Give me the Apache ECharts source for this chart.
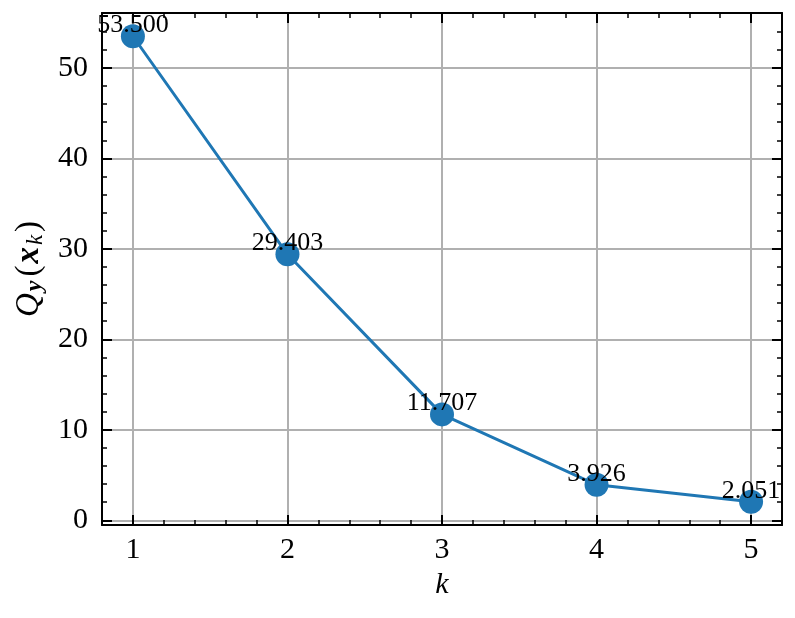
<!DOCTYPE html>
<html>
<head>
<meta charset="utf-8">
<script src="https://cdn.jsdelivr.net/npm/echarts@6/dist/echarts.min.js"></script>
<style>
  html, body { margin: 0; padding: 0; background: #fff; }
  #main { width: 795px; height: 618px; }
</style>
</head>
<body>
<div id="main"></div>
<script>
const kValues = [1, 2, 3, 4, 5];
const qValues = [53.5, 29.403, 11.707, 3.926, 2.051];

const xTicks = [1, 2, 3, 4, 5];
const xMinorTicks = [1.2, 1.4, 1.6, 1.8, 2.2, 2.4, 2.6, 2.8, 3.2, 3.4, 3.6, 3.8, 4.2, 4.4, 4.6, 4.8];
const yTicks = [0, 10, 20, 30, 40, 50];
const yMinorTicks = [2, 4, 6, 8, 12, 14, 16, 18, 22, 24, 26, 28, 32, 34, 36, 38, 42, 44, 46, 48, 52, 54];

const FONT = 'Liberation Serif';
const X_MIN = 0.8, X_MAX = 5.2;
const Y_MIN = -0.52, Y_MAX = 56.07;

const myChart = echarts.init(document.getElementById('main'));

// 主刻度轴
function majorX(pos, showAll) {
  return {
    type: 'value', position: pos, min: X_MIN, max: X_MAX,
    axisLine: { show: true, onZero: false, lineStyle: { color: '#000', width: 2 } },
    axisTick: { show: true, inside: true, length: 10, customValues: xTicks, lineStyle: { color: '#000', width: 2 } },
    axisLabel: showAll
      ? { show: true, customValues: xTicks, margin: 10, fontSize: 30, color: '#000', fontFamily: FONT }
      : { show: false },
    splitLine: showAll ? { show: true, lineStyle: { color: '#b0b0b0', width: 2 } } : { show: false },
    name: showAll ? 'k' : '',
    nameLocation: 'middle',
    nameGap: 44,
    nameTextStyle: { fontSize: 30, fontStyle: 'italic', fontFamily: FONT, color: '#000' },
  };
}
// 次刻度轴
function minorX(pos) {
  return {
    type: 'value', position: pos, min: X_MIN, max: X_MAX,
    axisLine: { show: false, onZero: false },
    axisTick: { show: true, inside: true, length: 5, customValues: xMinorTicks, lineStyle: { color: '#000', width: 1.5 } },
    axisLabel: { show: false },
    splitLine: { show: false },
  };
}
function majorY(pos, showAll) {
  return {
    type: 'value', position: pos, min: Y_MIN, max: Y_MAX,
    axisLine: { show: true, onZero: false, lineStyle: { color: '#000', width: 2 } },
    axisTick: { show: true, inside: true, length: 10, customValues: yTicks, lineStyle: { color: '#000', width: 2 } },
    axisLabel: showAll
      ? { show: true, customValues: yTicks, margin: 14, fontSize: 30, color: '#000', fontFamily: FONT }
      : { show: false },
    splitLine: showAll ? { show: true, lineStyle: { color: '#b0b0b0', width: 2 } } : { show: false },
    name: showAll ? '{q|Q}{s|y}{p|(}{x|x}{k|k}{p|)}' : '',
    nameLocation: 'middle',
    nameGap: 55,
    nameTextStyle: {
      color: '#000',
      rich: {
        q: { fontSize: 33, fontStyle: 'italic', fontFamily: FONT, color: '#000', lineHeight: 36, padding: [0, 1, 0, 0] },
        s: { fontSize: 24, fontStyle: 'italic', fontWeight: 'bold', fontFamily: FONT, color: '#000', verticalAlign: 'bottom', lineHeight: 36, padding: [0, 4, 0, 1] },
        p: { fontSize: 33, fontFamily: FONT, color: '#000', lineHeight: 36 },
        x: { fontSize: 33, fontStyle: 'italic', fontWeight: 'bold', fontFamily: FONT, color: '#000', lineHeight: 36, padding: [0, 1, 0, 2] },
        k: { fontSize: 23, fontStyle: 'italic', fontFamily: FONT, color: '#000', verticalAlign: 'bottom', lineHeight: 36, padding: [0, 3, 0, 1] },
      },
    },
  };
}
function minorY(pos) {
  return {
    type: 'value', position: pos, min: Y_MIN, max: Y_MAX,
    axisLine: { show: false, onZero: false },
    axisTick: { show: true, inside: true, length: 5, customValues: yMinorTicks, lineStyle: { color: '#000', width: 1.5 } },
    axisLabel: { show: false },
    splitLine: { show: false },
  };
}

const option = {
  backgroundColor: '#fff',
  animation: false,
  grid: { left: 102, right: 13, top: 13, bottom: 93, containLabel: false, outerBoundsMode: 'none' },
  xAxis: [majorX('bottom', true), minorX('bottom'), majorX('top', false), minorX('top')],
  yAxis: [majorY('left', true), minorY('left'), majorY('right', false), minorY('right')],
  series: [
    {
      type: 'line',
      xAxisIndex: 0,
      yAxisIndex: 0,
      data: kValues.map((k, i) => [k, qValues[i]]),
      symbol: 'circle',
      symbolSize: 24,
      itemStyle: { color: '#1f77b4' },
      lineStyle: { color: '#1f77b4', width: 3 },
      label: {
        show: true,
        position: 'inside',
        offset: [0, -11],
        formatter: (p) => p.value[1].toFixed(3),
        fontSize: 26,
        fontFamily: FONT,
        color: '#000',
      },
      z: 5,
    },
  ],
};

myChart.setOption(option);
</script>
</body>
</html>
